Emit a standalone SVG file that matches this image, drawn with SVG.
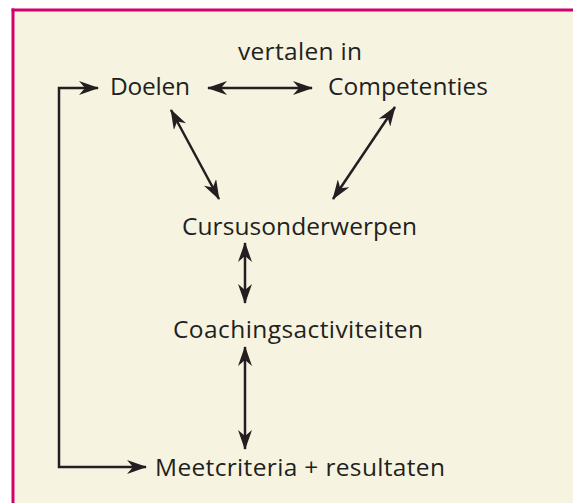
<svg xmlns="http://www.w3.org/2000/svg" width="573" height="503" viewBox="0 0 573 503">
<style>
.t{font-family:"Open Sans","DejaVu Sans",sans-serif;font-size:24.5px;fill:#231f20}
.c{fill:none;stroke:#231f20;stroke-width:2.5}
</style>
<defs>
<marker id="ah" viewBox="0 0 20 14" refX="19" refY="7" markerWidth="20" markerHeight="14" markerUnits="userSpaceOnUse" orient="auto-start-reverse">
<path d="M0,0 L20,7 L0,14 L6,7 z" fill="#231f20"/>
</marker>
</defs>
<rect x="0" y="0" width="573" height="503" fill="#ffffff"/>
<rect x="13" y="10" width="560" height="493" fill="#f6f4e1"/>
<line x1="11.5" y1="10" x2="573" y2="10" stroke="#d2006e" stroke-width="3"/>
<line x1="13" y1="8.5" x2="13" y2="503" stroke="#d2006e" stroke-width="3"/>
<g id="connectors">
<line class="c" x1="208" y1="88" x2="312" y2="88" marker-start="url(#ah)" marker-end="url(#ah)"/>
<path class="c" d="M98,88 H59 V467 H146" marker-start="url(#ah)" marker-end="url(#ah)"/>
<line class="c" x1="171" y1="110" x2="219" y2="199" marker-start="url(#ah)" marker-end="url(#ah)"/>
<line class="c" x1="395" y1="107" x2="333" y2="199" marker-start="url(#ah)" marker-end="url(#ah)"/>
<line class="c" x1="245" y1="243" x2="245" y2="303" marker-start="url(#ah)" marker-end="url(#ah)"/>
<line class="c" x1="245" y1="347" x2="245" y2="449" marker-start="url(#ah)" marker-end="url(#ah)"/>
</g>
<g id="label-vertalen"><text class="t" x="238" y="60" textLength="124">vertalen in</text></g>
<g id="node-doelen"><text class="t" x="110" y="95" textLength="80">Doelen</text></g>
<g id="node-competenties"><text class="t" x="328" y="95" textLength="160">Competenties</text></g>
<g id="node-cursus"><text class="t" x="182" y="235" textLength="235">Cursusonderwerpen</text></g>
<g id="node-coaching"><text class="t" x="173" y="338" textLength="250">Coachingsactiviteiten</text></g>
<g id="node-meet"><text class="t" x="155" y="476" textLength="290">Meetcriteria + resultaten</text></g>
</svg>
